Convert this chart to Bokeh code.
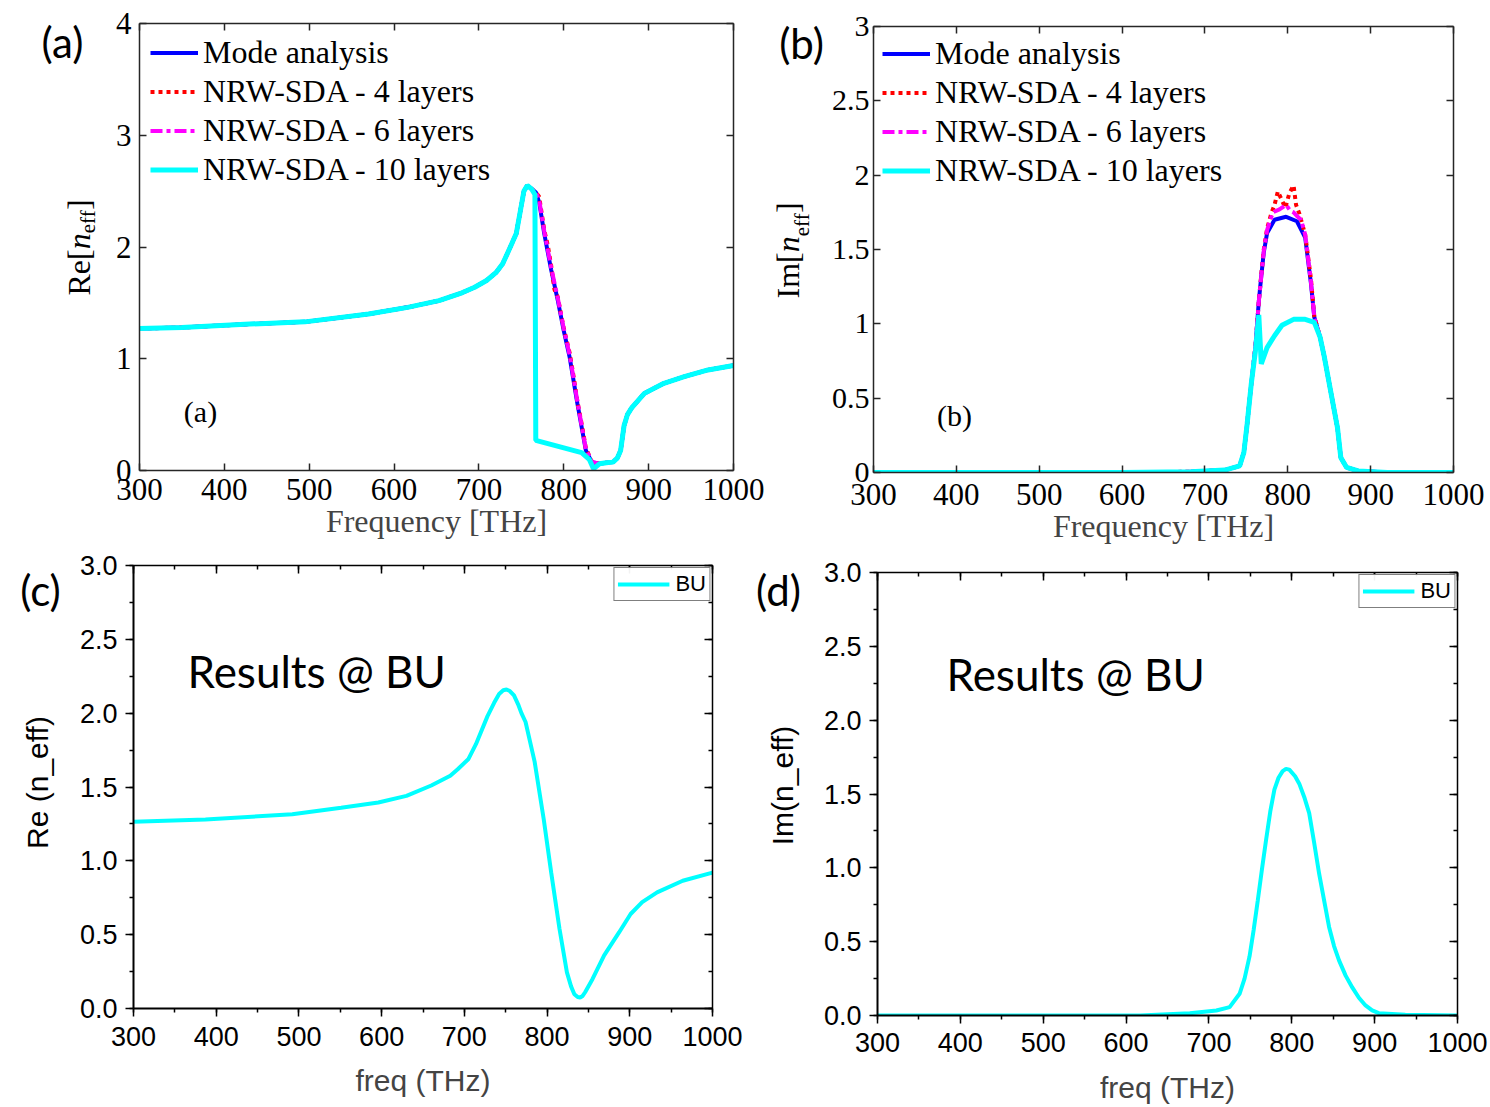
import math
from bokeh.plotting import figure
from bokeh.models import (LinearAxis, Range1d, SingleIntervalTicker, Label, Legend,
                          LegendItem, PrintfTickFormatter, CustomJSTickFormatter)
from bokeh.layouts import row, column
from bokeh.embed import file_html
from bokeh.resources import INLINE

# ---------------- data ----------------
# Panel (a): Re[n_eff]
f_rise_a = [300, 350, 430, 495, 570, 616, 653, 680, 695, 709, 720, 728, 737, 744, 749, 753, 757, 762]
re_rise_a = [1.27, 1.28, 1.31, 1.33, 1.40, 1.46, 1.52, 1.59, 1.64, 1.70, 1.77, 1.85, 2.00, 2.12, 2.33, 2.50, 2.55, 2.52]
f_tail_a = [842, 850, 858, 863, 867, 871, 875, 880, 888, 895, 918, 942, 970, 1000]
re_tail_a = [0.06, 0.07, 0.075, 0.11, 0.18, 0.40, 0.50, 0.56, 0.63, 0.69, 0.78, 0.84, 0.90, 0.94]

f_mode_a_mid = [767, 771, 777, 785, 793, 800, 807, 816, 826, 833]
re_mode_a_mid = [2.49, 2.40, 2.12, 1.80, 1.52, 1.25, 1.01, 0.60, 0.18, 0.075]
f_l4_a_mid = [767, 771, 777, 781, 785, 789, 793, 800, 807, 812, 816, 821, 826, 833]
re_l4_a_mid = [2.49, 2.45, 2.15, 2.02, 1.84, 1.62, 1.55, 1.27, 1.05, 0.82, 0.62, 0.42, 0.20, 0.08]
f_l6_a_mid = [767, 771, 777, 785, 793, 800, 807, 816, 826, 833]
re_l6_a_mid = [2.49, 2.42, 2.14, 1.82, 1.54, 1.27, 1.03, 0.62, 0.19, 0.08]
f_l10_a_mid = [766, 767, 821, 830, 835]
re_l10_a_mid = [2.47, 0.27, 0.16, 0.10, 0.015]

# Panel (b): Im[n_eff]
f_mode_b = [300, 600, 683, 724, 742, 747, 751, 756, 761, 765, 768, 771, 775, 784, 798, 811, 821, 828, 832, 839,
            844, 853, 860, 864, 871, 885, 920, 1000]
im_mode_b = [0, 0, 0.005, 0.016, 0.045, 0.135, 0.33, 0.60, 0.85, 1.15, 1.32, 1.48, 1.61, 1.70, 1.72, 1.69, 1.58, 1.27, 1.045, 0.91,
             0.78, 0.51, 0.30, 0.10, 0.034, 0.01, 0, 0]
f_l4_b = [300, 600, 683, 724, 742, 747, 751, 756, 761, 765, 768, 771, 775, 780, 784, 788, 793, 797, 802, 807,
          810, 814, 821, 828, 832, 839, 844, 853, 860, 864, 871, 885, 920, 1000]
im_l4_b = [0, 0, 0.005, 0.016, 0.045, 0.135, 0.33, 0.60, 0.85, 1.15, 1.33, 1.50, 1.64, 1.74, 1.80, 1.89, 1.83, 1.78, 1.88, 1.93,
           1.80, 1.74, 1.60, 1.30, 1.05, 0.91, 0.78, 0.51, 0.30, 0.10, 0.034, 0.01, 0, 0]
f_l6_b = [300, 600, 683, 724, 742, 747, 751, 756, 761, 765, 768, 771, 775, 782, 790, 798, 803, 807, 812, 816,
          821, 828, 832, 839, 844, 853, 860, 864, 871, 885, 920, 1000]
im_l6_b = [0, 0, 0.005, 0.016, 0.045, 0.135, 0.33, 0.60, 0.85, 1.15, 1.32, 1.49, 1.63, 1.75, 1.77, 1.80, 1.76, 1.75, 1.72, 1.70,
           1.60, 1.28, 1.04, 0.91, 0.78, 0.51, 0.30, 0.10, 0.034, 0.01, 0, 0]
f_l10_b = [300, 600, 683, 724, 742, 747, 751, 756, 761, 765, 768, 775, 784, 793, 807, 821, 832, 839, 844, 853,
           860, 864, 871, 885, 920, 1000]
im_l10_b = [0, 0, 0.005, 0.016, 0.045, 0.135, 0.33, 0.60, 0.82, 1.06, 0.73, 0.84, 0.92, 0.99, 1.03, 1.03, 1.01, 0.91, 0.78, 0.51,
            0.30, 0.10, 0.034, 0.01, 0, 0]

# Panel (c): Re (n_eff) BU
f_c = [300, 387, 492, 551, 596, 630, 660, 683, 692, 705, 714, 728, 736, 742, 747, 751, 755, 760, 765, 769,
       774, 785, 796, 805, 815, 824, 829, 833, 837, 840, 843, 846, 855, 869, 887, 901, 915, 933, 964, 1000]
re_c = [1.264, 1.28, 1.316, 1.36, 1.395, 1.44, 1.51, 1.576, 1.62, 1.69, 1.79, 1.98, 2.07, 2.13, 2.155, 2.16, 2.15, 2.12, 2.06, 2.00,
        1.94, 1.67, 1.28, 0.92, 0.54, 0.245, 0.15, 0.097, 0.078, 0.075, 0.085, 0.11, 0.20, 0.36, 0.515, 0.64, 0.72, 0.786, 0.865, 0.92]

# Panel (d): Im(n_eff) BU
f_d = [300, 617, 677, 709, 725, 737, 743, 749, 754, 759, 764, 769, 774, 779, 784, 789, 793, 797, 804, 809,
       815, 821, 827, 833, 839, 845, 851, 857, 865, 873, 881, 889, 897, 905, 937, 1000]
im_d = [0, 0, 0.016, 0.034, 0.057, 0.147, 0.25, 0.40, 0.58, 0.78, 0.99, 1.19, 1.38, 1.53, 1.61, 1.655, 1.67, 1.665, 1.62, 1.57,
        1.48, 1.37, 1.17, 0.96, 0.78, 0.60, 0.47, 0.373, 0.27, 0.19, 0.12, 0.068, 0.035, 0.016, 0.005, 0]

legend_labels = ["Mode analysis", "NRW-SDA - 4 layers", "NRW-SDA - 6 layers", "NRW-SDA - 10 layers"]

SERIF = "Liberation Serif"
SANS = "Liberation Sans"
CAL = "Lato"
BLANK = CustomJSTickFormatter(code="return '';")


def no_align(p):
    if "frame_align" in p.properties():
        p.frame_align = False


def base_fig(w, h, l, r, t, b, ymax):
    p = figure(width=w, height=h, x_range=Range1d(300, 1000), y_range=Range1d(0, ymax),
               output_backend="svg", toolbar_location=None, tools="",
               min_border_left=l, min_border_right=r, min_border_top=t, min_border_bottom=b)
    p.grid.visible = False
    p.outline_line_color = None
    p.background_fill_color = "white"
    p.border_fill_color = "white"
    no_align(p)
    return p


def side_fig(w, h):
    s = figure(width=w, height=h, x_range=Range1d(0, 1), y_range=Range1d(0, 1),
               output_backend="svg", toolbar_location=None, tools="",
               x_axis_location=None, y_axis_location=None, min_border=0)
    s.grid.visible = False
    s.outline_line_color = None
    s.background_fill_color = "white"
    s.border_fill_color = "white"
    no_align(s)
    return s


def mat_axis(ax, interval, labels=True, fmt=None, size="31px", standoff=7):
    ax.ticker = SingleIntervalTicker(interval=interval, num_minor_ticks=0)
    ax.axis_line_color = "#262626"
    ax.axis_line_width = 1.5
    ax.major_tick_line_color = "#262626"
    ax.major_tick_line_width = 1.5
    ax.major_tick_in = 7
    ax.major_tick_out = 0
    ax.minor_tick_line_color = None
    ax.major_label_text_font = SERIF
    ax.major_label_text_color = "black"
    if labels:
        ax.major_label_text_font_size = size
        ax.major_label_standoff = standoff
        if fmt is not None:
            ax.formatter = fmt
    else:
        ax.formatter = BLANK
        ax.major_label_text_font_size = "1px"
        ax.major_label_standoff = 0


def org_axis(ax, yaxis, main=True, standoff=8):
    if yaxis:
        ax.ticker = SingleIntervalTicker(interval=0.5, num_minor_ticks=2)
        ax.formatter = PrintfTickFormatter(format="%.1f")
    else:
        ax.ticker = SingleIntervalTicker(interval=100, num_minor_ticks=2)
    ax.axis_line_color = "black"
    ax.axis_line_width = 2 if main else 1.5
    ax.major_tick_line_color = "black"
    ax.minor_tick_line_color = "black"
    ax.major_tick_line_width = 1.5
    ax.minor_tick_line_width = 1.5
    ax.major_label_text_font = SANS
    ax.major_label_text_color = "black"
    if main:
        ax.major_tick_out, ax.major_tick_in = 8, 0
        ax.minor_tick_out, ax.minor_tick_in = 4, 0
        ax.major_label_text_font_size = "27px"
        ax.major_label_standoff = standoff
    else:
        ax.major_tick_out, ax.major_tick_in = 0, 8
        ax.minor_tick_out, ax.minor_tick_in = 0, 4
        ax.formatter = BLANK
        ax.major_label_text_font_size = "1px"
        ax.major_label_standoff = 0


def rich_ylabel(p, prefix, xc, y0, size=32, sub=21, shift=9):
    # Times-like advance widths (em) to chain the pieces of the label
    W = {'R': 0.667, 'e': 0.444, '[': 0.333, ']': 0.333, 'I': 0.333, 'm': 0.778, 'n': 0.5, 'f': 0.333}
    parts = [(prefix, "normal", size, 0), ("n", "italic", size, 0), ("eff", "normal", sub, shift), ("]", "normal", size, 0)]
    y = y0
    for txt, style, sz, sh in parts:
        p.add_layout(Label(x=xc + sh, y=y, x_units="screen", y_units="screen", text=txt, angle=math.pi / 2,
                           text_font=SERIF, text_font_style=style, text_font_size=f"{sz}px",
                           text_align="left", text_baseline="middle", text_color="black"))
        y += sum(W[c] for c in txt) * sz


def text_at(p, txt, x, y, font=CAL, size="42px", angle=0.0):
    p.add_layout(Label(x=x, y=y, x_units="screen", y_units="screen", text=txt, text_font=font, angle=angle,
                       text_font_size=size, text_align="center", text_baseline="middle", text_color="black"))


def mat_legend(p, rs, margin):
    leg = Legend(items=[LegendItem(label=lab, renderers=[r]) for lab, r in zip(legend_labels, rs)],
                 location="top_left", margin=margin, padding=0, spacing=2,
                 glyph_width=48, glyph_height=37, label_height=37, label_standoff=5,
                 label_text_font=SERIF, label_text_font_size="32px", label_text_color="black",
                 border_line_color=None, background_fill_alpha=0)
    p.add_layout(leg)


def bu_legend(p, r):
    p.add_layout(Legend(items=[LegendItem(label="BU", renderers=[r])], location="top_right", margin=2,
                        padding=3, glyph_width=52, glyph_height=26, label_height=26, label_standoff=6,
                        label_text_font=SANS, label_text_font_size="22px", label_text_color="black",
                        border_line_color="black", border_line_width=1, background_fill_color="white"))


H1, H2 = 552, 555

# ---------------- panel (a) ----------------
sa = side_fig(100, H1)
pa = base_fig(667, H1, 39, 34, 23, 82, 4)
mat_axis(pa.xaxis[0], 100, standoff=8)
mat_axis(pa.yaxis[0], 1, standoff=8)
pa.xaxis[0].axis_label = "Frequency [THz]"
pa.xaxis[0].axis_label_text_font = SERIF
pa.xaxis[0].axis_label_text_font_size = "32px"
pa.xaxis[0].axis_label_text_font_style = "normal"
pa.xaxis[0].axis_label_standoff = 0
ta = LinearAxis(); mat_axis(ta, 100, labels=False); pa.add_layout(ta, "above")
ra = LinearAxis(); mat_axis(ra, 1, labels=False); pa.add_layout(ra, "right")

r1 = pa.line(f_rise_a + f_mode_a_mid + f_tail_a, re_rise_a + re_mode_a_mid + re_tail_a,
             line_color="#0000FF", line_width=4)
r2 = pa.line(f_rise_a + f_l4_a_mid + f_tail_a, re_rise_a + re_l4_a_mid + re_tail_a,
             line_color="#FF0000", line_width=4, line_dash="4 4")
r3 = pa.line(f_rise_a + f_l6_a_mid + f_tail_a, re_rise_a + re_l6_a_mid + re_tail_a,
             line_color="#FF00FF", line_width=4, line_dash="12 4 4 4")
r4 = pa.line(f_rise_a + f_l10_a_mid + f_tail_a, re_rise_a + re_l10_a_mid + re_tail_a,
             line_color="#00FFFF", line_width=5)
mat_legend(pa, [r1, r2, r3, r4], 11)
text_at(pa, "(a)", 61, 59, font=SERIF, size="30px")
rich_ylabel(sa, "Re[", 78, H1 - 295, shift=9)
text_at(sa, "(a)", 62, H1 - 41)

# ---------------- panel (b) ----------------
sb = side_fig(61, H1)
pb = base_fig(662, H1, 42, 37, 26, 80, 3)
mat_axis(pb.xaxis[0], 100, standoff=11)
mat_axis(pb.yaxis[0], 0.5, fmt=CustomJSTickFormatter(code="return String(tick);"), size="30px", standoff=4)
pb.xaxis[0].axis_label = "Frequency [THz]"
pb.xaxis[0].axis_label_text_font = SERIF
pb.xaxis[0].axis_label_text_font_size = "32px"
pb.xaxis[0].axis_label_text_font_style = "normal"
pb.xaxis[0].axis_label_standoff = 0
tb = LinearAxis(); mat_axis(tb, 100, labels=False); pb.add_layout(tb, "above")
rb = LinearAxis(); mat_axis(rb, 0.5, labels=False); pb.add_layout(rb, "right")

s1 = pb.line(f_mode_b, im_mode_b, line_color="#0000FF", line_width=4)
s2 = pb.line(f_l4_b, im_l4_b, line_color="#FF0000", line_width=4, line_dash="4 4")
s3 = pb.line(f_l6_b, im_l6_b, line_color="#FF00FF", line_width=4, line_dash="12 4 4 4")
s4 = pb.line(f_l10_b, im_l10_b, line_color="#00FFFF", line_width=5)
mat_legend(pb, [s1, s2, s3, s4], 9)
text_at(pb, "(b)", 81, 57, font=SERIF, size="30px")
rich_ylabel(sb, "Im[", 20, H1 - 298, shift=14)
text_at(sb, "(b)", 34, H1 - 42)

# ---------------- panel (c) ----------------
sc = side_fig(70, H2)
pc = base_fig(677, H2, 63, 35, 13, 99, 3)
org_axis(pc.xaxis[0], False, standoff=10)
org_axis(pc.yaxis[0], True, standoff=8)
pc.xaxis[0].axis_label = "freq (THz)"
pc.xaxis[0].axis_label_text_font = SANS
pc.xaxis[0].axis_label_text_font_size = "30px"
pc.xaxis[0].axis_label_text_font_style = "normal"
pc.xaxis[0].axis_label_standoff = 15
tc = LinearAxis(); org_axis(tc, False, main=False); pc.add_layout(tc, "above")
rc_ax = LinearAxis(); org_axis(rc_ax, True, main=False); pc.add_layout(rc_ax, "right")
c1 = pc.line(f_c, re_c, line_color="#00FFFF", line_width=4)
bu_legend(pc, c1)
pc.add_layout(Label(x=54, y=338, x_units="screen", y_units="screen", text="Results @ BU", text_font=CAL,
                    text_font_size="44px", text_align="left", text_baseline="middle", text_color="black"))
text_at(sc, "(c)", 40, H2 - (589 - H1))
text_at(sc, "Re (n_eff)", 37, H2 - (782 - H1), font=SANS, size="30px", angle=math.pi / 2)

# ---------------- panel (d) ----------------
sd = side_fig(63, H2)
pd_ = base_fig(680, H2, 67, 33, 20, 92, 3)
org_axis(pd_.xaxis[0], False, standoff=9)
org_axis(pd_.yaxis[0], True, standoff=8)
pd_.xaxis[0].axis_label = "freq (THz)"
pd_.xaxis[0].axis_label_text_font = SANS
pd_.xaxis[0].axis_label_text_font_size = "30px"
pd_.xaxis[0].axis_label_text_font_style = "normal"
pd_.xaxis[0].axis_label_standoff = 16
td = LinearAxis(); org_axis(td, False, main=False); pd_.add_layout(td, "above")
rd_ax = LinearAxis(); org_axis(rd_ax, True, main=False); pd_.add_layout(rd_ax, "right")
d1 = pd_.line(f_d, im_d, line_color="#00FFFF", line_width=4)
bu_legend(pd_, d1)
pd_.add_layout(Label(x=69, y=342, x_units="screen", y_units="screen", text="Results @ BU", text_font=CAL,
                     text_font_size="44px", text_align="left", text_baseline="middle", text_color="black"))
text_at(sd, "(d)", 31, H2 - (589 - H1))
text_at(sd, "Im(n_eff)", 35, H2 - (785 - H1), font=SANS, size="30px", angle=math.pi / 2)

layout = column(row(column(sa), column(pa), column(sb), column(pb)),
                row(column(sc), column(pc), column(sd), column(pd_)))
open("out.html", "w").write(file_html(layout, INLINE))
